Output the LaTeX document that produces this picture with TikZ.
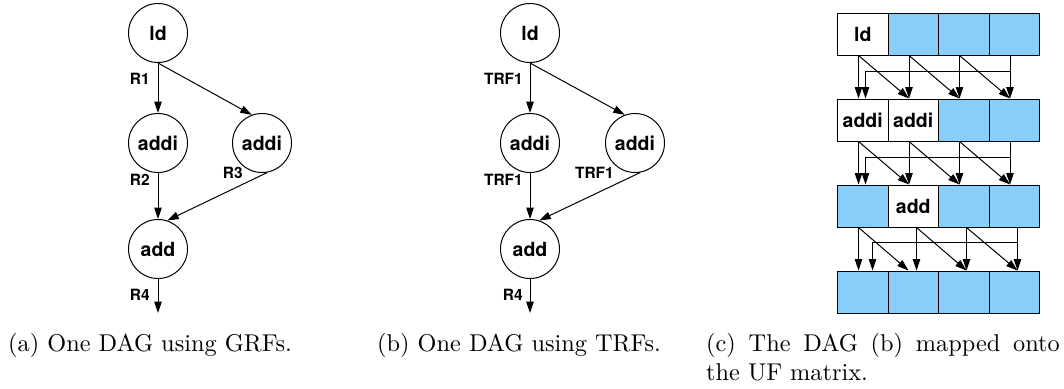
\documentclass[tikz,border=0pt]{standalone}
\usepackage{fontspec}
\usepackage{graphicx}
\newfontfamily\hv{TeX Gyre Heros}
\usetikzlibrary{arrows.meta,calc}
\definecolor{ufblue}{RGB}{135,206,250}

\tikzset{
  op/.style={circle, draw, line width=1pt, minimum size=59pt, inner sep=0pt,
             font=\hv\bfseries\fontsize{19.5}{23}\selectfont},
  reg/.style={anchor=east, inner sep=0pt, font=\hv\bfseries\fontsize{15.5}{18}\selectfont},
  flow/.style={line width=1pt, -{Triangle[length=11.5pt,width=7.5pt]}},
  cell/.style={draw, line width=1pt, minimum width=50.5pt, minimum height=42pt,
               inner sep=0pt, font=\hv\bfseries\fontsize{19.5}{23}\selectfont},
  used/.style={cell, fill=white},
  free/.style={cell, fill=ufblue},
  captext/.style={anchor=base west, inner sep=0pt}
}

\begin{document}
\begin{tikzpicture}[x=1pt, y=-1pt]
\useasboundingbox (0,0) rectangle (1064,388);

% ---- (a) DAG with general register files
\node[op] (a-ld)  at (158,33)  {ld};
\node[op] (a-ai1) at (158,143) {addi};
\node[op] (a-ai2) at (262,143) {addi};
\node[op] (a-add) at (158,249) {add};
\coordinate (a-out) at (158,313);
\draw[flow] (a-ld.south) -- (a-ai1.north);
\draw[flow] (a-ld.south) -- (a-ai2.110);
\draw[flow] (a-ai1.south) -- (a-add.north);
\draw[flow] (a-ai2.-80) -- (a-add.72);
\draw[flow] (a-add.south) -- (a-out);
\node[reg] (a-r1) at (150,79)  {R1};
\node[reg] (a-r2) at (150,180) {R2};
\node[reg] (a-r3) at (243,173) {R3};
\node[reg] (a-r4) at (150,295) {R4};

% ---- (b) DAG with transient register files
\node[op] (b-ld)  at (530,33)  {ld};
\node[op] (b-ai1) at (530,143) {addi};
\node[op] (b-ai2) at (635,143) {addi};
\node[op] (b-add) at (530,249) {add};
\coordinate (b-out) at (530,313);
\draw[flow] (b-ld.south) -- (b-ai1.north);
\draw[flow] (b-ld.south) -- (b-ai2.110);
\draw[flow] (b-ai1.south) -- (b-add.north);
\draw[flow] (b-ai2.-80) -- (b-add.72);
\draw[flow] (b-add.south) -- (b-out);
\node[reg] (b-t1) at (523,79)  {TRF1};
\node[reg] (b-t2) at (523,180) {TRF1};
\node[reg] (b-t3) at (614,173) {TRF1};
\node[reg] (b-r4) at (523,295) {R4};

% ---- (c) UF matrix
\foreach \r/\y in {1/34,2/120,3/206,4/292}
  \foreach \c in {1,2,3,4}
    \node[free] (g-\r-\c) at ({837.5+50.5*(\c-0.5)},\y) {};
\node[used] at (g-1-1) {ld};
\node[used] at (g-2-1) {addi};
\node[used] at (g-2-2) {addi};
\node[used] at (g-3-2) {add};

% links from row r to row s (first two stages)
\foreach \r/\s in {1/2,2/3}{
  \foreach \c in {1,2,3,4}
    \draw[flow] ($(g-\r-\c.south west)+(21.5,0)$) -- ($(g-\s-\c.north west)+(21.5,0)$);
  \foreach \c/\d in {1/2,2/3,3/4}
    \draw[flow] ($(g-\r-\c.south west)+(21.5,0)$) -- ($(g-\s-\d.north west)+(21.5,0)$);
  \draw[flow] ($(g-\r-4.south west)+(21.5,16)$) -- ($(g-\r-1.south west)+(28.5,16)$)
              -- ($(g-\s-1.north west)+(28.5,0)$);
}

% links from row 3 to row 4
\foreach \c/\o in {1/21.5,2/29,3/28.5,4/29}
  \draw[flow] ($(g-3-\c.south west)+(\o,0)$) -- ($(g-4-\c.north west)+(\o,0)$);
\draw[flow] ($(g-3-1.south west)+(21.5,0)$) -- ($(g-4-2.north west)+(21,0)$);
\draw[flow] ($(g-3-2.south west)+(29,0)$) -- ($(g-4-3.north west)+(28.5,0)$);
\draw[flow] ($(g-3-3.south west)+(28.5,0)$) -- ($(g-4-4.north west)+(29,0)$);
\draw[flow] ($(g-3-4.south west)+(29,15)$) -- ($(g-3-1.south west)+(35.5,15)$)
            -- ($(g-4-1.north west)+(35.5,0)$);

% ---- captions
\node[captext] (cap-a) at (8,351)
  {\scalebox{2.43}{\fontsize{10}{12}\selectfont (a) One DAG using GRFs.}};
\node[captext] (cap-b) at (377,351)
  {\scalebox{2.43}{\fontsize{10}{12}\selectfont (b) One DAG using TRFs.}};
\node[captext] (cap-c) at (706,351)
  {\scalebox{2.43}{\parbox[t]{145.5pt}{\fontsize{10}{12}\selectfont\parindent=0pt
   (c) The DAG (b) mapped onto the UF matrix.}}};
\end{tikzpicture}
\end{document}
